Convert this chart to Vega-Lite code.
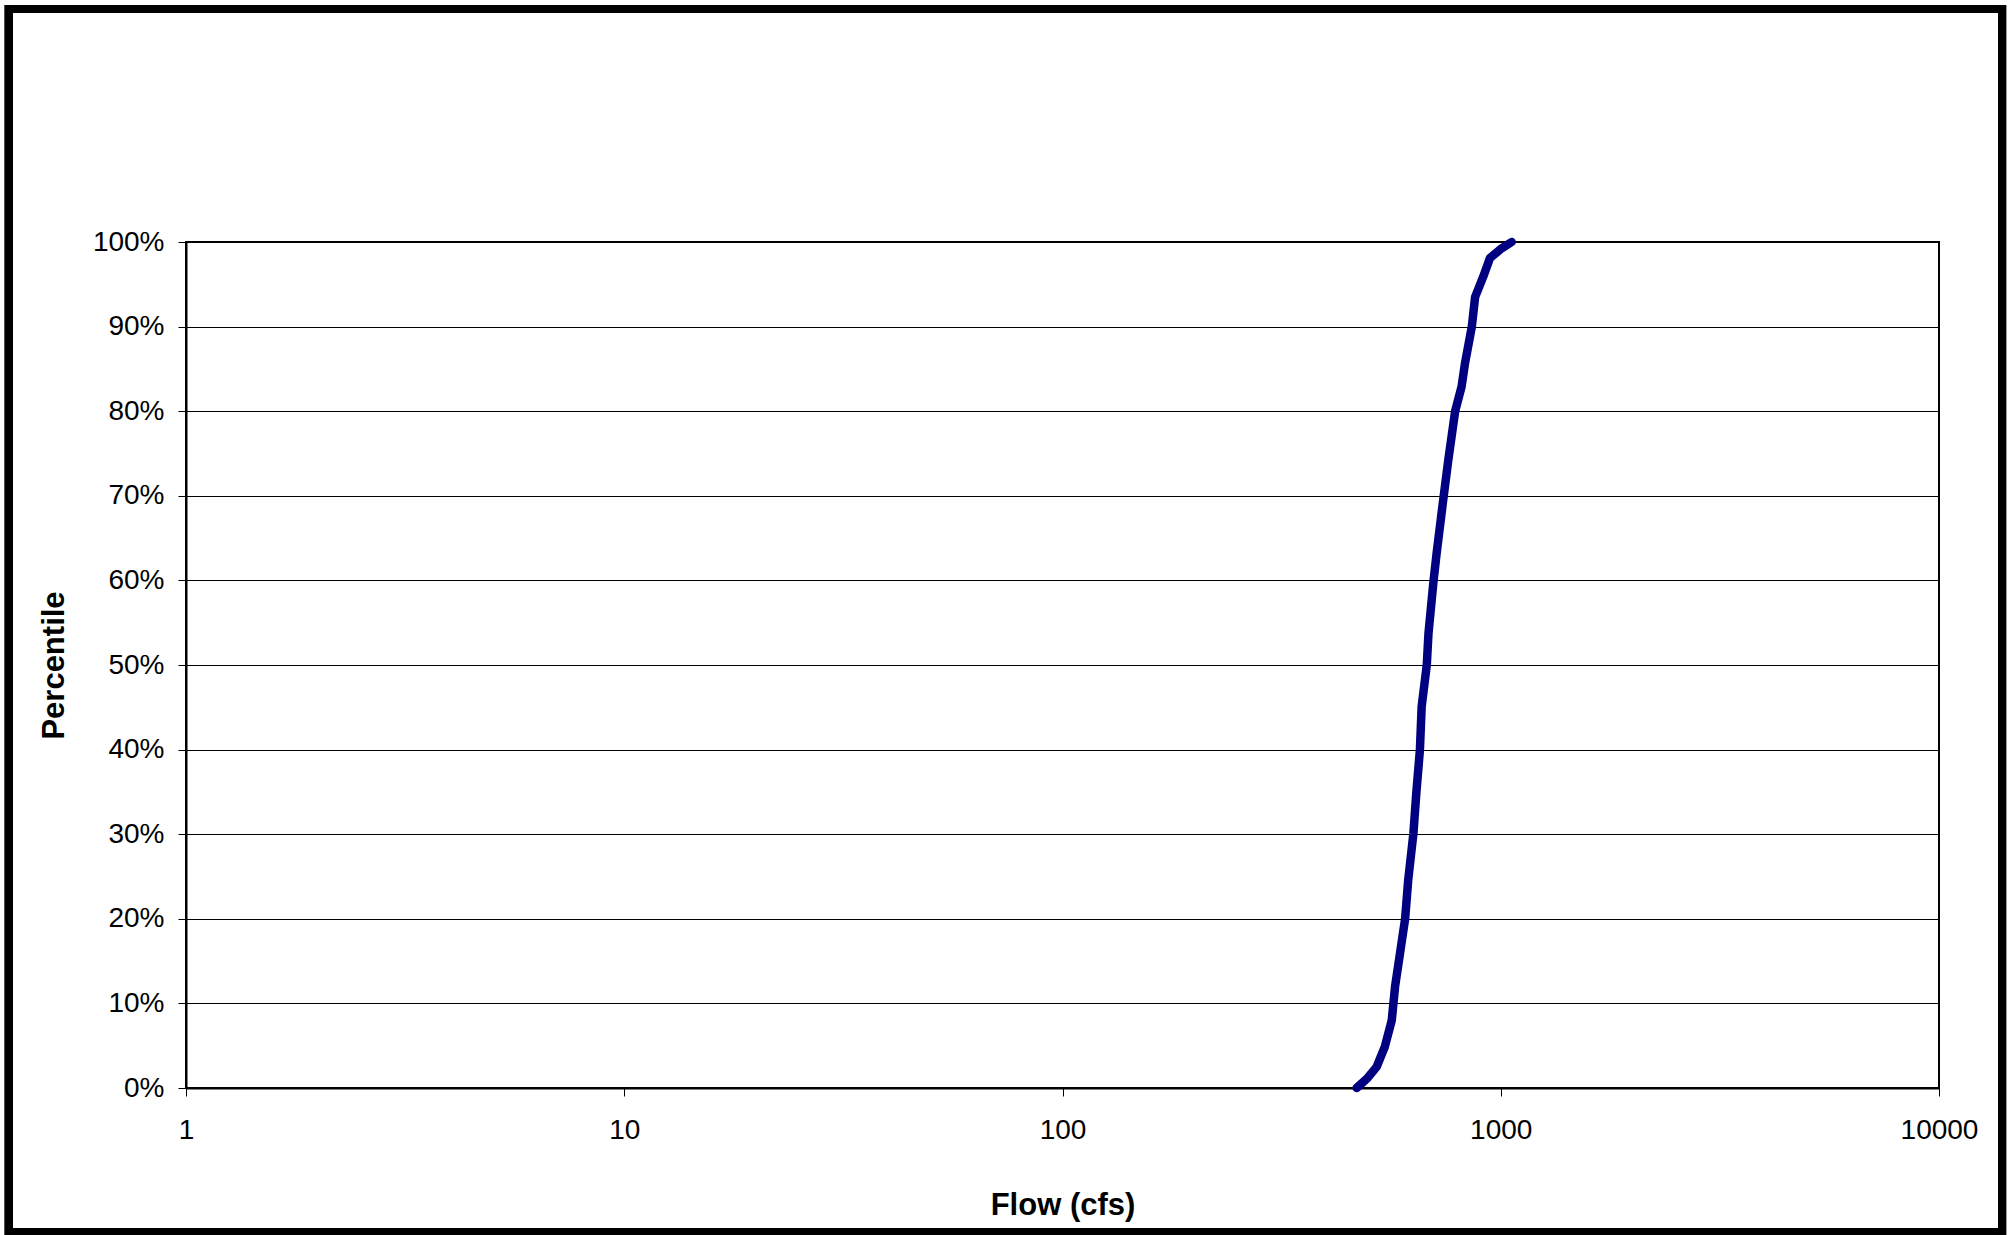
{
  "$schema": "https://vega.github.io/schema/vega-lite/v6.json",
  "autosize": "none",
  "width": 1753,
  "height": 846,
  "padding": {"left": 186, "top": 242, "right": 74, "bottom": 147},
  "background": "white",
  "config": {
    "view": {"stroke": "black", "strokeWidth": 2},
    "axis": {
      "domainColor": "black",
      "domainWidth": 2,
      "tickColor": "black",
      "tickSize": 8,
      "tickWidth": 1,
      "labelFont": "Liberation Sans",
      "labelFontSize": 28,
      "labelColor": "black",
      "labelFlush": false,
      "labelOverlap": false,
      "titleFont": "Liberation Sans",
      "titleFontSize": 31,
      "titleFontWeight": "bold",
      "titleColor": "black"
    }
  },
  "data": {
    "values": [
      {"flow": 469, "pct": 0.0},
      {"flow": 495, "pct": 0.011},
      {"flow": 521, "pct": 0.025},
      {"flow": 544, "pct": 0.049},
      {"flow": 564, "pct": 0.08},
      {"flow": 574, "pct": 0.12},
      {"flow": 589, "pct": 0.159},
      {"flow": 605, "pct": 0.2},
      {"flow": 615, "pct": 0.246},
      {"flow": 632, "pct": 0.301},
      {"flow": 642, "pct": 0.35},
      {"flow": 654, "pct": 0.4},
      {"flow": 660, "pct": 0.451},
      {"flow": 678, "pct": 0.5},
      {"flow": 684, "pct": 0.537},
      {"flow": 702, "pct": 0.598},
      {"flow": 714, "pct": 0.632},
      {"flow": 737, "pct": 0.69},
      {"flow": 759, "pct": 0.742},
      {"flow": 787, "pct": 0.8},
      {"flow": 814, "pct": 0.829},
      {"flow": 829, "pct": 0.857},
      {"flow": 859, "pct": 0.9},
      {"flow": 874, "pct": 0.935},
      {"flow": 912, "pct": 0.959},
      {"flow": 945, "pct": 0.981},
      {"flow": 1005, "pct": 0.9925},
      {"flow": 1059, "pct": 1.0}
    ]
  },
  "layer": [
    {
      "mark": {"type": "line", "color": "#000080", "strokeWidth": 8.5, "strokeCap": "round", "strokeJoin": "round"},
      "encoding": {
        "x": {
          "field": "flow",
          "type": "quantitative",
          "scale": {"type": "log", "domain": [1, 10000], "nice": false},
          "axis": {
            "title": "Flow (cfs)",
            "values": [1, 10, 100, 1000, 10000],
            "format": "d",
            "grid": false,
            "labelPadding": 20,
            "titlePadding": 46
          }
        },
        "y": {
          "field": "pct",
          "type": "quantitative",
          "scale": {"domain": [0, 1], "nice": false, "zero": true},
          "axis": {
            "title": "Percentile",
            "values": [0, 0.1, 0.2, 0.3, 0.4, 0.5, 0.6, 0.7, 0.8, 0.9, 1.0],
            "format": ".0%",
            "grid": true,
            "gridColor": "black",
            "gridWidth": 1,
            "labelPadding": 14,
            "titlePadding": 22
          }
        }
      }
    },
    {
      "mark": {"type": "rect", "fill": null, "fillOpacity": 0, "stroke": "black", "strokeWidth": 8, "clip": false},
      "encoding": {
        "x": {"datum": 0.3945, "type": "quantitative"},
        "x2": {"datum": 13925},
        "y": {"datum": -0.1702, "type": "quantitative"},
        "y2": {"datum": 1.2754}
      }
    }
  ]
}
